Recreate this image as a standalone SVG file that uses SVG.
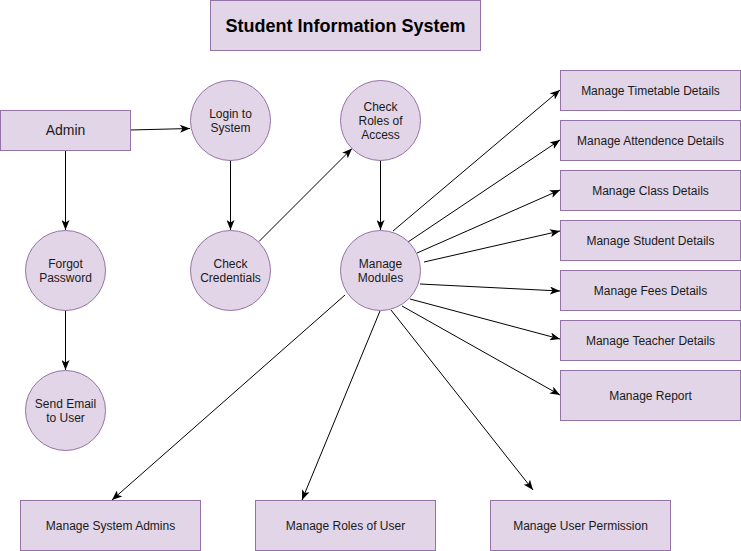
<svg xmlns="http://www.w3.org/2000/svg" width="741" height="551" viewBox="0 0 741 551">
<style>
.box{fill:#e1d5e7;stroke:#9673a6;stroke-width:1}
.t{font-family:"Liberation Sans",Arial,sans-serif;font-size:12px;fill:#1a1a1a;text-anchor:middle}
.e{stroke:#000;stroke-width:1;fill:none;marker-end:url(#arr)}
</style>
<defs>
<marker id="arr" viewBox="0 0 10 8" refX="10" refY="4" markerWidth="10" markerHeight="8" markerUnits="userSpaceOnUse" orient="auto">
<path d="M0,0 L10,4 L0,8 L2.5,4 Z" fill="#000"/>
</marker>
</defs>
<rect width="741" height="551" fill="#fff"/>
<g id="title"><rect class="box" x="210.5" y="0.5" width="270" height="50"/><text x="345.5" y="32" style="font-family:'Liberation Sans',Arial,sans-serif;font-size:18px;font-weight:bold;fill:#000;text-anchor:middle">Student Information System</text></g>
<g id="connectors">
<line class="e" x1="130" y1="130" x2="190" y2="128.5"/>
<line class="e" x1="65.5" y1="150" x2="65.5" y2="230"/>
<line class="e" x1="65.5" y1="310" x2="65.5" y2="370"/>
<line class="e" x1="230.5" y1="160" x2="230.5" y2="230"/>
<line class="e" x1="259" y1="241.5" x2="352" y2="148.5"/>
<line class="e" x1="380.5" y1="160" x2="380.5" y2="230"/>
<line class="e" x1="393" y1="231" x2="560" y2="90"/>
<line class="e" x1="408" y1="242" x2="560" y2="140"/>
<line class="e" x1="417" y1="253" x2="560" y2="190"/>
<line class="e" x1="424" y1="262" x2="560" y2="231"/>
<line class="e" x1="420" y1="284" x2="560" y2="291"/>
<line class="e" x1="410" y1="299" x2="560" y2="339"/>
<line class="e" x1="402" y1="306" x2="560" y2="395"/>
<line class="e" x1="345" y1="295" x2="112" y2="500"/>
<line class="e" x1="380" y1="311" x2="302" y2="500"/>
<line class="e" x1="391" y1="310" x2="533" y2="490"/>
</g>
<g id="admin"><rect class="box" x="0.5" y="110.5" width="130" height="40"/><text class="t" x="65.5" y="135" style="font-size:14px">Admin</text></g>
<g id="login"><circle class="box" cx="230.5" cy="120.5" r="40"/><text class="t" x="230.5" y="118">Login to</text><text class="t" x="230.5" y="132">System</text></g>
<g id="checkroles"><circle class="box" cx="380.5" cy="120.5" r="40"/><text class="t" x="380.5" y="111">Check</text><text class="t" x="380.5" y="125">Roles of</text><text class="t" x="380.5" y="139">Access</text></g>
<g id="forgot"><circle class="box" cx="65.5" cy="270.5" r="40"/><text class="t" x="65.5" y="268">Forgot</text><text class="t" x="65.5" y="282">Password</text></g>
<g id="checkcred"><circle class="box" cx="230.5" cy="270.5" r="40"/><text class="t" x="230.5" y="268">Check</text><text class="t" x="230.5" y="282">Credentials</text></g>
<g id="modules"><circle class="box" cx="380.5" cy="270.5" r="40"/><text class="t" x="380.5" y="268">Manage</text><text class="t" x="380.5" y="282">Modules</text></g>
<g id="sendemail"><circle class="box" cx="65.5" cy="410.5" r="40"/><text class="t" x="65.5" y="408">Send Email</text><text class="t" x="65.5" y="422">to User</text></g>
<g id="timetable"><rect class="box" x="560.5" y="70.5" width="180" height="40"/><text class="t" x="650.5" y="95">Manage Timetable Details</text></g>
<g id="attendence"><rect class="box" x="560.5" y="120.5" width="180" height="40"/><text class="t" x="650.5" y="145">Manage Attendence Details</text></g>
<g id="class"><rect class="box" x="560.5" y="170.5" width="180" height="40"/><text class="t" x="650.5" y="195">Manage Class Details</text></g>
<g id="student"><rect class="box" x="560.5" y="220.5" width="180" height="40"/><text class="t" x="650.5" y="245">Manage Student Details</text></g>
<g id="fees"><rect class="box" x="560.5" y="270.5" width="180" height="40"/><text class="t" x="650.5" y="295">Manage Fees Details</text></g>
<g id="teacher"><rect class="box" x="560.5" y="320.5" width="180" height="40"/><text class="t" x="650.5" y="345">Manage Teacher Details</text></g>
<g id="report"><rect class="box" x="560.5" y="370.5" width="180" height="50"/><text class="t" x="650.5" y="400">Manage Report</text></g>
<g id="sysadmins"><rect class="box" x="20.5" y="500.5" width="180" height="50"/><text class="t" x="110.5" y="530">Manage System Admins</text></g>
<g id="roles"><rect class="box" x="255.5" y="500.5" width="180" height="50"/><text class="t" x="345.5" y="530">Manage Roles of User</text></g>
<g id="permission"><rect class="box" x="490.5" y="500.5" width="180" height="50"/><text class="t" x="580.5" y="530">Manage User Permission</text></g>
</svg>
